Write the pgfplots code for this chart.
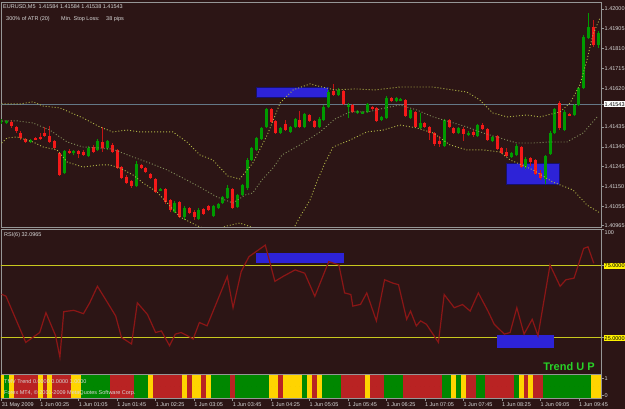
\documentclass[border=0pt]{standalone}
\usepackage{pgfplots}
\usepackage{pgfplotstable}
\pgfplotsset{compat=1.18}
\usepackage{fontspec}
\setmainfont{Liberation Sans}
\definecolor{bg}{RGB}{44,21,21}
\definecolor{frame}{RGB}{150,150,150}
\definecolor{cgreen}{RGB}{0,155,0}
\definecolor{cred}{RGB}{245,25,25}
\definecolor{band}{RGB}{175,180,70}
\definecolor{midband}{RGB}{130,140,90}
\definecolor{rsi}{RGB}{140,22,22}
\definecolor{lvl}{RGB}{200,200,30}
\definecolor{box}{RGB}{45,35,215}
\definecolor{tgreen}{RGB}{0,135,0}
\definecolor{tred}{RGB}{185,35,35}
\definecolor{tyellow}{RGB}{255,212,0}
\definecolor{txt}{RGB}{215,215,215}
\definecolor{hline}{RGB}{100,120,135}
\definecolor{trendtxt}{RGB}{40,210,40}
\newcommand{\mtf}{\fontsize{5.5}{6}\selectfont}

\pgfplotstableread{
i o h l c
0 1.41459 1.41473 1.41449 1.41464
1 1.41454 1.41468 1.41449 1.41464
2 1.41459 1.41468 1.41430 1.41440
3 1.41435 1.41440 1.41406 1.41416
4 1.41406 1.41416 1.41372 1.41382
5 1.41377 1.41382 1.41358 1.41363
6 1.41368 1.41377 1.41358 1.41372
7 1.41382 1.41387 1.41372 1.41377
8 1.41387 1.41406 1.41372 1.41377
9 1.41406 1.41435 1.41387 1.41392
10 1.41392 1.41440 1.41358 1.41363
11 1.41368 1.41372 1.41329 1.41334
12 1.41310 1.41315 1.41200 1.41205
13 1.41214 1.41325 1.41210 1.41320
14 1.41320 1.41329 1.41305 1.41310
15 1.41310 1.41325 1.41301 1.41320
16 1.41320 1.41325 1.41286 1.41305
17 1.41315 1.41325 1.41296 1.41301
18 1.41296 1.41344 1.41291 1.41334
19 1.41339 1.41349 1.41310 1.41315
20 1.41325 1.41377 1.41320 1.41368
21 1.41363 1.41435 1.41315 1.41334
22 1.41334 1.41372 1.41325 1.41368
23 1.41349 1.41358 1.41310 1.41315
24 1.41325 1.41329 1.41234 1.41238
25 1.41243 1.41248 1.41186 1.41190
26 1.41195 1.41205 1.41162 1.41167
27 1.41176 1.41181 1.41143 1.41152
28 1.41152 1.41272 1.41147 1.41258
29 1.41253 1.41258 1.41234 1.41238
30 1.41238 1.41243 1.41214 1.41219
31 1.41210 1.41214 1.41186 1.41190
32 1.41186 1.41190 1.41119 1.41123
33 1.41133 1.41143 1.41128 1.41138
34 1.41138 1.41143 1.41066 1.41075
35 1.41085 1.41090 1.41028 1.41037
36 1.41028 1.41080 1.41023 1.41071
37 1.41075 1.41080 1.40999 1.41004
38 1.41004 1.41056 1.40989 1.41047
39 1.41047 1.41052 1.41018 1.41023
40 1.41028 1.41037 1.40989 1.41004
41 1.40994 1.41047 1.40989 1.41037
42 1.41042 1.41047 1.41013 1.41018
43 1.41056 1.41061 1.41032 1.41037
44 1.41008 1.41061 1.41004 1.41056
45 1.41047 1.41071 1.41042 1.41066
46 1.41071 1.41104 1.41066 1.41099
47 1.41095 1.41157 1.41090 1.41143
48 1.41138 1.41143 1.41042 1.41047
49 1.41052 1.41114 1.41047 1.41109
50 1.41109 1.41162 1.41104 1.41157
51 1.41143 1.41286 1.41133 1.41277
52 1.41277 1.41339 1.41272 1.41334
53 1.41325 1.41387 1.41320 1.41382
54 1.41377 1.41435 1.41372 1.41430
55 1.41435 1.41526 1.41430 1.41521
56 1.41521 1.41526 1.41454 1.41459
57 1.41464 1.41468 1.41401 1.41406
58 1.41406 1.41435 1.41401 1.41430
59 1.41449 1.41468 1.41416 1.41420
60 1.41411 1.41440 1.41406 1.41435
61 1.41435 1.41478 1.41430 1.41473
62 1.41468 1.41511 1.41430 1.41435
63 1.41435 1.41502 1.41430 1.41497
64 1.41492 1.41497 1.41459 1.41464
65 1.41464 1.41468 1.41430 1.41435
66 1.41435 1.41483 1.41430 1.41473
67 1.41468 1.41540 1.41464 1.41531
68 1.41531 1.41612 1.41526 1.41602
69 1.41607 1.41641 1.41583 1.41588
70 1.41588 1.41622 1.41583 1.41612
71 1.41607 1.41612 1.41540 1.41545
72 1.41535 1.41550 1.41478 1.41540
73 1.41540 1.41545 1.41502 1.41507
74 1.41502 1.41516 1.41497 1.41511
75 1.41502 1.41511 1.41497 1.41507
76 1.41507 1.41550 1.41502 1.41545
77 1.41531 1.41535 1.41516 1.41521
78 1.41526 1.41531 1.41459 1.41464
79 1.41468 1.41487 1.41464 1.41483
80 1.41478 1.41583 1.41473 1.41574
81 1.41574 1.41578 1.41555 1.41559
82 1.41559 1.41578 1.41555 1.41574
83 1.41564 1.41574 1.41559 1.41569
84 1.41564 1.41569 1.41483 1.41487
85 1.41478 1.41521 1.41473 1.41516
86 1.41507 1.41511 1.41430 1.41435
87 1.41430 1.41502 1.41425 1.41454
88 1.41454 1.41459 1.41430 1.41435
89 1.41435 1.41440 1.41372 1.41406
90 1.41406 1.41411 1.41344 1.41353
91 1.41368 1.41392 1.41339 1.41353
92 1.41344 1.41473 1.41339 1.41468
93 1.41468 1.41473 1.41430 1.41435
94 1.41430 1.41435 1.41401 1.41406
95 1.41406 1.41435 1.41401 1.41430
96 1.41425 1.41435 1.41368 1.41401
97 1.41401 1.41416 1.41392 1.41406
98 1.41411 1.41420 1.41387 1.41396
99 1.41392 1.41449 1.41387 1.41444
100 1.41444 1.41454 1.41420 1.41425
101 1.41425 1.41430 1.41368 1.41372
102 1.41368 1.41392 1.41363 1.41387
103 1.41392 1.41396 1.41325 1.41329
104 1.41334 1.41339 1.41305 1.41310
105 1.41315 1.41334 1.41291 1.41296
106 1.41291 1.41315 1.41286 1.41310
107 1.41301 1.41353 1.41296 1.41344
108 1.41339 1.41344 1.41238 1.41243
109 1.41243 1.41291 1.41234 1.41282
110 1.41286 1.41291 1.41248 1.41267
111 1.41277 1.41282 1.41205 1.41210
112 1.41214 1.41229 1.41181 1.41190
113 1.41186 1.41301 1.41162 1.41296
114 1.41305 1.41416 1.41301 1.41406
115 1.41406 1.41526 1.41401 1.41521
116 1.41550 1.41559 1.41420 1.41430
117 1.41420 1.41516 1.41416 1.41507
118 1.41497 1.41502 1.41487 1.41492
119 1.41492 1.41545 1.41487 1.41540
120 1.41540 1.41626 1.41535 1.41622
121 1.41622 1.41875 1.41617 1.41866
122 1.41861 1.41981 1.41856 1.41914
123 1.41914 1.41947 1.41818 1.41828
124 1.41828 1.41895 1.41813 1.41885
}\candles

% trend colour code: 0 green, 1 red, 2 yellow
\pgfplotstableread[row sep=\\]{
i c\\ 0 2\\ 1 0\\ 2 2\\ 3 1\\ 4 1\\ 5 1\\ 6 1\\ 7 1\\ 8 2\\ 9 1\\ 10 2\\ 11 1\\ 12 1\\ 13 1\\ 14 1\\ 15 2\\ 16 2\\ 17 0\\ 18 0\\ 19 0\\ 20 0\\ 21 0\\ 22 0\\ 23 1\\ 24 1\\ 25 1\\ 26 1\\ 27 1\\ 28 0\\ 29 0\\ 30 0\\ 31 2\\ 32 1\\ 33 1\\ 34 1\\ 35 1\\ 36 1\\ 37 1\\ 38 2\\ 39 1\\ 40 2\\ 41 2\\ 42 1\\ 43 2\\ 44 0\\ 45 0\\ 46 0\\ 47 0\\ 48 1\\ 49 0\\ 50 0\\ 51 0\\ 52 0\\ 53 0\\ 54 0\\ 55 0\\ 56 2\\ 57 2\\ 58 1\\ 59 2\\ 60 2\\ 61 2\\ 62 2\\ 63 0\\ 64 2\\ 65 1\\ 66 2\\ 67 0\\ 68 0\\ 69 0\\ 70 0\\ 71 1\\ 72 1\\ 73 1\\ 74 1\\ 75 1\\ 76 2\\ 77 1\\ 78 1\\ 79 1\\ 80 0\\ 81 0\\ 82 0\\ 83 0\\ 84 1\\ 85 1\\ 86 1\\ 87 1\\ 88 1\\ 89 1\\ 90 1\\ 91 1\\ 92 0\\ 93 0\\ 94 2\\ 95 0\\ 96 2\\ 97 1\\ 98 1\\ 99 0\\ 100 0\\ 101 1\\ 102 1\\ 103 1\\ 104 1\\ 105 1\\ 106 1\\ 107 0\\ 108 2\\ 109 1\\ 110 2\\ 111 1\\ 112 1\\ 113 0\\ 114 0\\ 115 0\\ 116 0\\ 117 0\\ 118 0\\ 119 0\\ 120 0\\ 121 0\\ 122 0\\ 123 2\\ 124 2\\
}\trend

\pgfplotsset{mt/.style={
  scale only axis, width=600pt, anchor=south west,
  xmin=-0.146, xmax=124.6,
  axis line style={draw=frame, line width=0.8pt},
  tick style={draw=frame, line width=0.5pt},
  tick align=outside, major tick length=2.5pt,
  ytick pos=right, xtick pos=bottom,
  ticklabel style={font=\mtf, text=txt},
  yticklabel style={anchor=west, inner sep=1pt},
},
seg/.style={only marks, mark=*, mark size=0pt, mark options={draw=none, fill=none}, forget plot,
  error bars/.cd, y dir=both, y explicit, error mark=none,
  error bar style={line width=#1}},
}

\begin{document}
\begin{tikzpicture}
\fill[bg] (0pt,0pt) rectangle (625pt,409pt);
\useasboundingbox (0pt,0pt) rectangle (625pt,409pt);

% ---------------- price panel ----------------
\begin{axis}[mt, at={(1pt,182pt)}, height=225pt,
  ymin=1.40956, ymax=1.42033, xtick=\empty,
  ytick={1.40965,1.41055,1.41150,1.41245,1.41340,1.41435,1.41620,1.41715,1.41810,1.41905,1.42000},
  yticklabels={1.40965,1.41055,1.41150,1.41245,1.41340,1.41435,1.41620,1.41715,1.41810,1.41905,1.42000},
  extra y ticks={1.41543}, extra y tick labels={1.41543},
  extra y tick style={yticklabel style={fill=white, text=black}},
]
\addplot[hline, line width=1pt, forget plot] coordinates {(-1,1.41543)(126,1.41543)};
\addplot[fill=box, draw=box!50!black, forget plot] coordinates {(52.9,1.41578)(67.8,1.41578)(67.8,1.41626)(52.9,1.41626)} -- cycle;
\addplot[fill=box, draw=box!50!black, forget plot] coordinates {(104.9,1.41162)(115.9,1.41162)(115.9,1.41262)(104.9,1.41262)} -- cycle;
% wicks
\addplot[seg=1pt, error bar style={draw=cgreen}]
  table[x=i, y expr={\thisrow{c}>=\thisrow{o} ? (\thisrow{h}+\thisrow{l})/2 : nan},
        y error expr={(\thisrow{h}-\thisrow{l})/2}] {\candles};
\addplot[seg=1pt, error bar style={draw=cred!80!black}]
  table[x=i, y expr={\thisrow{c}<\thisrow{o} ? (\thisrow{h}+\thisrow{l})/2 : nan},
        y error expr={(\thisrow{h}-\thisrow{l})/2}] {\candles};
% bodies
\addplot[seg=3pt, error bar style={draw=cgreen}]
  table[x=i, y expr={\thisrow{c}>=\thisrow{o} ? (\thisrow{o}+\thisrow{c})/2 : nan},
        y error expr={abs(\thisrow{c}-\thisrow{o})/2}] {\candles};
\addplot[seg=3pt, error bar style={draw=cred}]
  table[x=i, y expr={\thisrow{c}<\thisrow{o} ? (\thisrow{o}+\thisrow{c})/2 : nan},
        y error expr={abs(\thisrow{c}-\thisrow{o})/2}] {\candles};
% Bollinger bands
\addplot[band, line width=0.9pt, dash pattern=on 1pt off 2pt, forget plot] coordinates {
(0,1.41545)(3.8,1.41545)(6.5,1.41555)(8.6,1.41535)(12.1,1.41526)(16.9,1.41478)(20.4,1.41435)(23.1,1.41411)(26,1.41420)(28.8,1.41411)(35.6,1.41411)(38.5,1.41363)(41.2,1.41301)(43.9,1.41277)(47,1.41200)(49.5,1.41186)(52.2,1.41262)(55.2,1.41396)(57.9,1.41550)(60.6,1.41612)(64.1,1.41641)(66.6,1.41626)(69.3,1.41612)(73.5,1.41617)(77.6,1.41612)(82.8,1.41626)(89.7,1.41626)(96.7,1.41602)(99.4,1.41564)(102.1,1.41502)(105.1,1.41483)(109.2,1.41492)(111.9,1.41483)(116.1,1.41507)(118.2,1.41550)(120.2,1.41636)(121.7,1.41756)(122.9,1.41876)(124.4,1.41957)};
\addplot[midband, line width=0.9pt, dash pattern=on 1pt off 2pt, forget plot] coordinates {
(0,1.41464)(3.2,1.41464)(6.5,1.41454)(10,1.41420)(13.6,1.41363)(16.9,1.41339)(20.4,1.41334)(23.1,1.41329)(24.6,1.41315)(27.3,1.41291)(30.8,1.41262)(34.4,1.41229)(37.7,1.41190)(41.2,1.41147)(44.8,1.41099)(48.1,1.41071)(50.6,1.41109)(52.2,1.41119)(54.1,1.41181)(56.4,1.41238)(58.3,1.41301)(62,1.41349)(66.2,1.41411)(69.3,1.41473)(72.4,1.41507)(76.2,1.41507)(79.7,1.41526)(82.8,1.41540)(86.3,1.41516)(89.7,1.41483)(93.2,1.41459)(96.7,1.41435)(100.1,1.41406)(103.6,1.41382)(107.1,1.41358)(110.5,1.41358)(114,1.41363)(117.5,1.41363)(120.9,1.41406)(123.8,1.41483)};
\addplot[band, line width=0.9pt, dash pattern=on 1pt off 2pt, forget plot] coordinates {
(0,1.41358)(1.1,1.41382)(3.2,1.41387)(6.5,1.41363)(8.6,1.41339)(11.5,1.41325)(13.6,1.41267)(16.9,1.41243)(20.4,1.41253)(22.5,1.41253)(24.6,1.41238)(27.3,1.41205)(29.4,1.41167)(32.3,1.41123)(34.4,1.41071)(37.1,1.41004)(39.1,1.40980)(41.2,1.40956)(44,1.40940)(47,1.40962)(49.5,1.40975)(52,1.40955)(56,1.40930)(60.6,1.40945)(62,1.41004)(64.1,1.41085)(65.5,1.41171)(67.2,1.41262)(68.9,1.41339)(72.4,1.41372)(75.9,1.41411)(79.3,1.41420)(82.8,1.41444)(86.3,1.41430)(89.7,1.41406)(93.2,1.41349)(96.7,1.41325)(100.1,1.41325)(103.6,1.41315)(105.7,1.41277)(110.5,1.41229)(114.6,1.41171)(118.8,1.41133)(121.7,1.41061)(124.4,1.41023)};
\end{axis}

% ---------------- RSI panel ----------------
\begin{axis}[mt, at={(1pt,35pt)}, height=145pt,
  ymin=0, ymax=100, xtick=\empty,
  ytick={100}, yticklabels={100},
  yticklabel style={anchor=north west, yshift=-0.5pt},
  extra y ticks={25,75}, extra y tick labels={25.0000,75.0000},
  extra y tick style={yticklabel style={anchor=west, yshift=0pt, fill=yellow, text=black}},
]
\addplot[lvl, line width=1pt, forget plot] coordinates {(-1,75)(126,75)};
\addplot[lvl, line width=1pt, forget plot] coordinates {(-1,25)(126,25)};
\addplot[fill=box, draw=none, forget plot] coordinates {(52.9,76.8)(71.1,76.8)(71.1,83.2)(52.9,83.2)} -- cycle;
\addplot[fill=box, draw=none, forget plot] coordinates {(103,18.0)(114.8,18.0)(114.8,26.8)(103,26.8)} -- cycle;
\addplot[rsi, line width=1.2pt, forget plot] coordinates {
(0,55)(0.9,53.6)(5,21.8)(7.9,28.6)(9.2,42.3)(11.2,26.4)(12.1,11.6)(12.9,43)(15,43.9)(17,41.6)(18.3,49.1)(19.9,60.5)(21.4,52.5)(23.7,40)(24.9,25.2)(27,20.7)(28.2,49.1)(30.3,41.1)(32,28.6)(33.2,29.7)(34.9,19.5)(36.1,27.5)(37.3,28.6)(38.6,26.4)(39.8,24.1)(41.1,35.5)(42.7,33.2)(44.8,50.2)(46.9,67.3)(48.1,45.7)(49.8,70.7)(51.4,80.9)(54.8,88.9)(56.8,63.9)(58.5,67.3)(61,71.8)(63,69.5)(65.1,53.6)(68,77.5)(70.1,75.2)(71.3,55.9)(72.6,54.8)(73,46.8)(74.6,48)(75.9,55.9)(77.9,36.6)(79.6,65)(81.3,62.7)(82.5,61.6)(84.2,37.7)(85,43.4)(86.2,33.2)(87.1,36.6)(88.3,34.3)(90.8,21.8)(92,54.8)(94.1,45.7)(95.8,47.9)(97.4,43.4)(99.1,55.9)(101.1,43.4)(102.4,34.3)(104.5,27.5)(105.7,28.6)(107.1,45.7)(108.6,27.5)(110.3,37.7)(111.5,26.4)(114,75.2)(116.1,60.5)(117.3,65)(119,66.1)(121,86.6)(121.9,87.7)(123.1,76.4)};
\node[anchor=south west, font=\mtf, text=txt, inner sep=1pt, xshift=2.5pt] at (rel axis cs:1,0) {0};
\end{axis}

% ---------------- trend panel ----------------
\begin{axis}[mt, at={(1pt,10.5pt)}, height=23.5pt,
  ymin=-0.2, ymax=1.2, ytick={0,1}, yticklabels={0,1},
  xtick={0,8,...,120},
  xticklabels={31 May 2009,1 Jun 00:25,1 Jun 01:05,1 Jun 01:45,1 Jun 02:25,1 Jun 03:05,1 Jun 03:45,1 Jun 04:25,1 Jun 05:05,1 Jun 05:45,1 Jun 06:25,1 Jun 07:05,1 Jun 07:45,1 Jun 08:25,1 Jun 09:05,1 Jun 09:45},
  xticklabel style={anchor=north west, xshift=-1pt, inner sep=1pt},
]
\addplot[seg=4.9pt, error bar style={draw=tgreen}]
  table[x=i, y expr={\thisrow{c}==0 ? 0.5 : nan}, y error expr=0.7] {\trend};
\addplot[seg=4.9pt, error bar style={draw=tred}]
  table[x=i, y expr={\thisrow{c}==1 ? 0.5 : nan}, y error expr=0.7] {\trend};
\addplot[seg=4.9pt, error bar style={draw=tyellow}]
  table[x=i, y expr={\thisrow{c}==2 ? 0.5 : nan}, y error expr=0.7] {\trend};
\end{axis}

% ---------------- texts ----------------
\node[anchor=west, font=\mtf, text=txt, inner sep=0pt] at (3pt,402pt) {EURUSD,M5\ \ 1.41584 1.41584 1.41538 1.41543};
\node[anchor=west, font=\mtf, text=txt, inner sep=0pt] at (6pt,390pt) {300\% of ATR (20)};
\node[anchor=west, font=\mtf, text=txt, inner sep=0pt] at (61pt,390pt) {Min. Stop Loss:};
\node[anchor=west, font=\mtf, text=txt, inner sep=0pt] at (106pt,390pt) {38 pips};
\node[anchor=west, font=\mtf, text=txt, inner sep=0pt] at (4pt,174pt) {RSI(6) 32.0965};
\node[anchor=west, font=\mtf, text=txt, inner sep=0pt] at (4pt,27pt) {TMV Trend 0.0000 0.0000 1.0000};
\node[anchor=west, font=\mtf, text=txt, inner sep=0pt] at (4pt,15.5pt) {Forex MT4, \textcopyright{} 2001-2009 MetaQuotes Software Corp.};
\node[font=\bfseries\fontsize{11}{12}\selectfont, text=trendtxt, inner sep=0pt] at (569pt,42pt) {Trend U P};
\end{tikzpicture}
\end{document}
